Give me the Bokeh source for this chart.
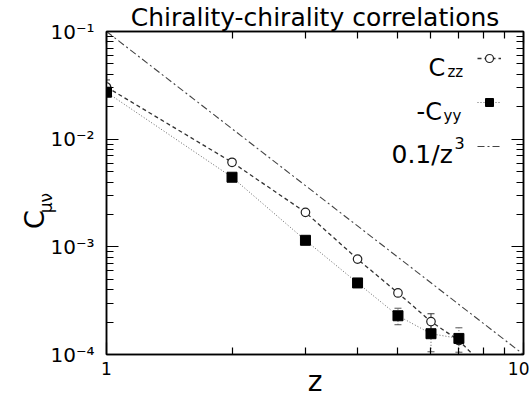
import math
from bokeh.plotting import figure
from bokeh.models import (LogAxis, Label, Legend, LegendItem, Whisker, ColumnDataSource,
                          CustomJSTickFormatter, FixedTicker, TeeHead)
from bokeh.embed import file_html
from bokeh.resources import INLINE

# ---------------- data ----------------
z_zz = [1, 2, 3, 4, 5, 6, 7, 8]
c_zz = [0.0305, 0.0061, 0.00209, 0.000769, 0.000373, 0.000202, 0.000135, 0.00008]
c_zz_err = [0.005, 0.0, 0.0, 0.00002, 0.00001, 0.000037, 0.0, 0.0]

z_yy = [1, 2, 3, 4, 5, 6, 7]
c_yy = [0.0273, 0.00443, 0.00115, 0.000462, 0.000229, 0.000156, 0.000141]
c_yy_err = [0.0, 0.0, 0.0, 0.00002, 0.00004, 0.00005, 0.000036]

z_fit = [1, 10]
c_fit = [0.1, 0.0001]          # 0.1/z^3

x_major = [1, 10]
x_minor = [2, 3, 4, 5, 6, 7, 8, 9]
y_major = [1e-4, 1e-3, 1e-2, 1e-1]
y_minor = [k * 10.0 ** e for e in (-4, -3, -2) for k in range(2, 10)]

title_text = "Chirality-chirality correlations"
FONT = "DejaVu Sans"
NBSP = "\u00a0"

# ---------------- figure ----------------
p = figure(width=529, height=400, x_axis_type="log", y_axis_type="log",
           x_range=(1, 10), y_range=(1e-4, 1e-1),
           output_backend="svg", toolbar_location=None,
           min_border_left=103, min_border_right=6,
           min_border_top=30, min_border_bottom=45)
p.grid.visible = False
p.outline_line_color = "black"
p.outline_line_width = 1.5
p.background_fill_color = "white"
p.border_fill_color = "white"

p.title.text = title_text
p.title.text_font = FONT
p.title.text_font_size = "25px"
p.title.text_font_style = "normal"
p.title.text_color = "black"
p.title.align = "center"
p.title.standoff = 0

sup_map = "const m={'-':'\u207b','0':'\u2070','1':'\u00b9','2':'\u00b2','3':'\u00b3','4':'\u2074','5':'\u2075','6':'\u2076','7':'\u2077','8':'\u2078','9':'\u2079'};"
y_fmt = CustomJSTickFormatter(code=sup_map + """
const e = Math.round(Math.log10(tick));
return '10' + String(e).split('').map(c => m[c]).join('');
""")
x_fmt = CustomJSTickFormatter(code="return String(Math.round(tick));")
blank_fmt = CustomJSTickFormatter(code="return '';")

def style_axis(ax):
    ax.axis_line_color = "black"
    ax.axis_line_width = 1.5
    ax.major_tick_in = 12
    ax.major_tick_out = 0
    ax.minor_tick_in = 7
    ax.minor_tick_out = 0
    ax.major_tick_line_color = "black"
    ax.minor_tick_line_color = "black"
    ax.major_tick_line_width = 1.2
    ax.minor_tick_line_width = 1.2

xb = p.xaxis[0]
yl = p.yaxis[0]
xb.ticker = FixedTicker(ticks=x_major, minor_ticks=x_minor)
yl.ticker = FixedTicker(ticks=y_major, minor_ticks=y_minor)
xb.formatter = x_fmt
yl.formatter = y_fmt
style_axis(xb)
style_axis(yl)
xb.major_label_text_font = FONT
xb.major_label_text_font_size = "17px"
xb.major_label_standoff = 7
xb.major_label_text_color = "black"
xb.axis_label = "z"
xb.axis_label_text_font = FONT
xb.axis_label_text_font_size = "28px"
xb.axis_label_text_font_style = "normal"
xb.axis_label_text_color = "black"
xb.axis_label_standoff = -13
yl.major_label_text_font = FONT
yl.major_label_text_font_size = "20px"
yl.major_label_standoff = 12
yl.major_label_text_color = "black"

xt = LogAxis(ticker=FixedTicker(ticks=x_major, minor_ticks=x_minor), formatter=blank_fmt,
             major_label_standoff=0)
yr = LogAxis(ticker=FixedTicker(ticks=y_major, minor_ticks=y_minor), formatter=blank_fmt,
             major_label_standoff=0)
style_axis(xt)
style_axis(yr)
p.add_layout(xt, "above")
p.add_layout(yr, "right")

# y-axis label C_{mu nu}: two label-only axes stacked on the left
def label_axis(text, size, standoff, orient):
    ax = LogAxis(ticker=FixedTicker(ticks=[]), formatter=blank_fmt,
                 axis_line_color=None, major_tick_line_color=None,
                 minor_tick_line_color=None, major_tick_in=0, major_tick_out=0,
                 minor_tick_in=0, minor_tick_out=0, major_label_standoff=0,
                 axis_label=text, axis_label_text_font=FONT,
                 axis_label_text_font_size=size, axis_label_text_font_style="normal",
                 axis_label_text_color="black", axis_label_standoff=standoff)
    try:
        ax.axis_label_orientation = orient
    except Exception:
        pass
    return ax

p.add_layout(label_axis("\u03bc\u03bd", "17px", 2, 0.5 * math.pi), "left")
p.add_layout(label_axis("C" + NBSP * 2, "27px", -12, 0.5 * math.pi), "left")

# ---------------- series ----------------
fit_line = p.line(z_fit, c_fit, line_color="#444444", line_width=1.1, line_dash="7 3 2 3")
zz_line = p.line(z_zz, c_zz, line_color="#333333", line_width=1.3, line_dash="4 3")
yy_line = p.line(z_yy, c_yy, line_color="#666666", line_width=1.0, line_dash="1 2")

zz_err_src = ColumnDataSource(dict(
    base=[z for z, e in zip(z_zz, c_zz_err) if e > 0],
    lower=[v - e for v, e in zip(c_zz, c_zz_err) if e > 0],
    upper=[v + e for v, e in zip(c_zz, c_zz_err) if e > 0]))
yy_err_src = ColumnDataSource(dict(
    base=[z for z, e in zip(z_yy, c_yy_err) if e > 0],
    lower=[v - e for v, e in zip(c_yy, c_yy_err) if e > 0],
    upper=[v + e for v, e in zip(c_yy, c_yy_err) if e > 0]))
p.add_layout(Whisker(source=zz_err_src, base="base", lower="lower", upper="upper",
                     line_color="#333333", line_width=1,
                     upper_head=TeeHead(size=7, line_color="#333333"),
                     lower_head=TeeHead(size=7, line_color="#333333")))
p.add_layout(Whisker(source=yy_err_src, base="base", lower="lower", upper="upper",
                     line_color="#555555", line_width=1, line_dash="1 2",
                     upper_head=TeeHead(size=7, line_color="#555555"),
                     lower_head=TeeHead(size=7, line_color="#555555")))

zz_pts = p.scatter(z_zz, c_zz, marker="circle", size=8.5, fill_color="white",
                   line_color="#222222", line_width=1.2)
yy_pts = p.scatter(z_yy, c_yy, marker="square", size=10, fill_color="black",
                   line_color="black")

# legend glyphs (text added separately because of subscripts)
legend = Legend(items=[
    LegendItem(label=NBSP, renderers=[zz_line, zz_pts]),
    LegendItem(label=NBSP, renderers=[yy_line, yy_pts]),
    LegendItem(label=NBSP, renderers=[fit_line]),
], location=(371, 198), glyph_width=24, glyph_height=20, label_width=0,
   label_height=20, label_standoff=0, padding=0, spacing=24, margin=0,
   border_line_color=None, background_fill_alpha=0, label_text_font_size="10px")
p.add_layout(legend)

def lab(x, y, text, size, align="left"):
    p.add_layout(Label(x=x, y=y, x_units="screen", y_units="screen", text=text,
                       text_font=FONT, text_font_size=size, text_color="black",
                       text_align=align, text_baseline="alphabetic"))

# legend texts
lab(322, 287, "C", "24px")
lab(341, 283, "zz", "15px")
lab(310, 243, "-C", "24px")
lab(337, 239, "yy", "15px")
lab(285, 200, "0.1/z", "25px")
lab(348, 212, "3", "16px")

open("out.html", "w").write(file_html(p, INLINE))
